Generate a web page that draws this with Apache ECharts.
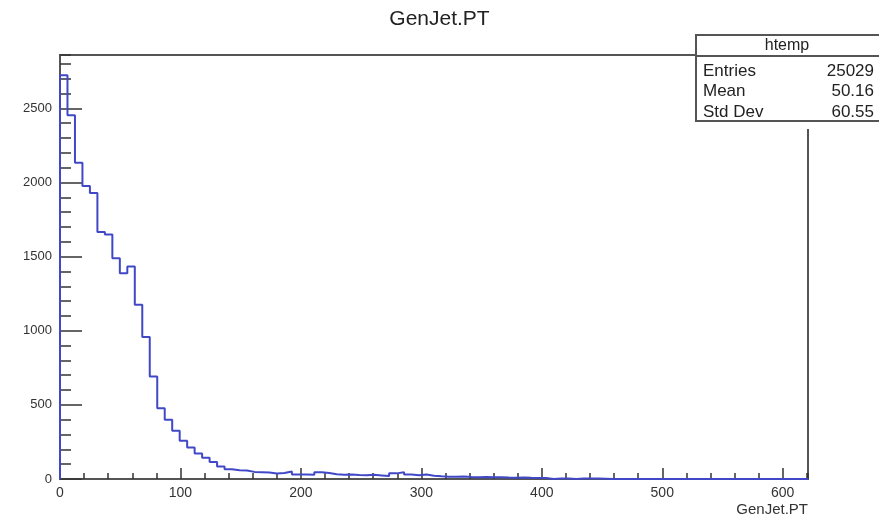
<!DOCTYPE html>
<html>
<head>
<meta charset="utf-8">
<script src="https://cdn.jsdelivr.net/npm/echarts@6/dist/echarts.min.js"></script>
<style>
html,body{margin:0;padding:0;background:#fff;}
#chart{width:879px;height:522px;}
</style>
</head>
<body>
<div id="chart"></div>
<script>
// ---- data ----
const titleText = 'GenJet.PT';
const xAxisTitle = 'GenJet.PT';
const xMin = 0;
const xMax = 621;
const nBins = 100;
const yMax = 2860;
const binCounts = [
  2724, 2453, 2133, 1976, 1929, 1666, 1650, 1489, 1388, 1433,
  1175, 957, 691, 478, 400, 325, 258, 212, 172, 143,
  115, 85, 65, 59, 57, 48, 46, 44, 37, 40,
  50, 30, 30, 29, 45, 40, 32, 28, 30, 27,
  25, 28, 24, 20, 38, 45, 30, 25, 30, 22,
  18, 16, 15, 17, 14, 12, 13, 11, 12, 10,
  9, 10, 8, 7, 6, 0, 3, 4, 0, 3,
  4, 3, 2, 0, 0, 0, 0, 0, 0, 0,
  0, 0, 0, 0, 0, 0, 0, 0, 0, 0,
  0, 0, 0, 0, 0, 0, 0, 0, 0, 0
];
const xTickLabels = [0, 100, 200, 300, 400, 500, 600];
const yTickLabels = [0, 500, 1000, 1500, 2000, 2500];
const statsName = 'htemp';
const statsLabels = ['Entries', 'Mean', 'Std Dev'];
const statsValues = ['25029', '50.16', '60.55'];

// ---- build histogram outline (bin edges via the axis scale) ----
const binWidth = (xMax - xMin) / nBins;
const histPoints = [[xMin, 0]];
for (let i = 0; i < binCounts.length; i++) {
  histPoints.push([xMin + i * binWidth, binCounts[i]]);
}
histPoints.push([xMax, binCounts[binCounts.length - 1]]);

const FONT = 'Liberation Sans, Arial, Helvetica, sans-serif';
const frameColor = '#555';
const tickColor = '#333';

const chart = echarts.init(document.getElementById('chart'), null, {renderer: 'canvas'});

const grid = {left: 60, right: 71, top: 55, bottom: 43, show: true,
  borderColor: frameColor, borderWidth: 2, backgroundColor: 'transparent', containLabel: false};

const option = {
  animation: false,
  backgroundColor: '#fff',
  grid: grid,
  xAxis: [
    {
      type: 'value', min: xMin, max: xMax, interval: 20, position: 'bottom',
      axisLine: {show: true, onZero: false, lineStyle: {color: frameColor, width: 2}},
      axisTick: {show: true, inside: true, length: 6, lineStyle: {color: tickColor, width: 1.5}},
      axisLabel: {show: false},
      splitLine: {show: false}
    },
    {
      type: 'value', min: xMin, max: xMax, interval: 100, position: 'bottom',
      axisLine: {show: false, onZero: false},
      axisTick: {show: true, inside: true, length: 11, lineStyle: {color: tickColor, width: 1.5}},
      axisLabel: {
        show: true, margin: 7, fontSize: 14, color: '#333', fontFamily: FONT,
        formatter: function (v) { return xTickLabels.indexOf(v) >= 0 ? String(v) : ''; },
        showMaxLabel: false
      },
      splitLine: {show: false}
    }
  ],
  yAxis: [
    {
      type: 'value', min: 0, max: yMax, interval: 100, position: 'left',
      axisLine: {show: true, onZero: false, lineStyle: {color: frameColor, width: 2}},
      axisTick: {show: true, inside: true, length: 11, lineStyle: {color: tickColor, width: 1.5}},
      axisLabel: {show: false},
      splitLine: {show: false}
    },
    {
      type: 'value', min: 0, max: yMax, interval: 500, position: 'left',
      axisLine: {show: false, onZero: false},
      axisTick: {show: true, inside: true, length: 22, lineStyle: {color: tickColor, width: 1.5}},
      axisLabel: {
        show: true, margin: 8, fontSize: 13, color: '#333', fontFamily: FONT,
        formatter: function (v) { return yTickLabels.indexOf(v) >= 0 ? String(v) : ''; },
        showMaxLabel: false
      },
      splitLine: {show: false}
    }
  ],
  series: [{
    type: 'line',
    xAxisIndex: 0, yAxisIndex: 0,
    step: 'end',
    showSymbol: false,
    symbol: 'none',
    clip: true,
    lineStyle: {color: '#4148c8', width: 2},
    data: histPoints
  }],
  graphic: [
    {type: 'text', left: 'center', top: 9, z: 10,
      style: {text: titleText, font: '21px ' + FONT, fill: '#222'}},
    {type: 'text', z: 10,
      style: {text: xAxisTitle, x: 808, y: 510, textAlign: 'right', textVerticalAlign: 'middle', verticalAlign: 'middle',
        font: '15px ' + FONT, fill: '#333'}},
    // stats box
    {type: 'rect', z: 20, shape: {x: 696, y: 35, width: 190, height: 86},
      style: {fill: '#fff', stroke: 'none'}},
    {type: 'text', z: 21,
      style: {text: statsName, x: 787, y: 46, textAlign: 'center', textVerticalAlign: 'middle', verticalAlign: 'middle',
        font: '16px ' + FONT, fill: '#222'}},
    {type: 'text', z: 21,
      style: {text: statsLabels[0], x: 703, y: 71, textVerticalAlign: 'middle', verticalAlign: 'middle', font: '17px ' + FONT, fill: '#222'}},
    {type: 'text', z: 21,
      style: {text: statsValues[0], x: 874, y: 71, textAlign: 'right', textVerticalAlign: 'middle', verticalAlign: 'middle', font: '17px ' + FONT, fill: '#222'}},
    {type: 'text', z: 21,
      style: {text: statsLabels[1], x: 703, y: 91, textVerticalAlign: 'middle', verticalAlign: 'middle', font: '17px ' + FONT, fill: '#222'}},
    {type: 'text', z: 21,
      style: {text: statsValues[1], x: 874, y: 91, textAlign: 'right', textVerticalAlign: 'middle', verticalAlign: 'middle', font: '17px ' + FONT, fill: '#222'}},
    {type: 'text', z: 21,
      style: {text: statsLabels[2], x: 703, y: 112, textVerticalAlign: 'middle', verticalAlign: 'middle', font: '17px ' + FONT, fill: '#222'}},
    {type: 'text', z: 21,
      style: {text: statsValues[2], x: 874, y: 112, textAlign: 'right', textVerticalAlign: 'middle', verticalAlign: 'middle', font: '17px ' + FONT, fill: '#222'}},
    // white mask to clip bottom of last row
    {type: 'rect', z: 22, shape: {x: 696, y: 121, width: 190, height: 8},
      style: {fill: '#fff', stroke: 'none'}},
    {type: 'line', z: 23, shape: {x1: 696, y1: 56, x2: 879, y2: 56},
      style: {stroke: frameColor, lineWidth: 2}},
    {type: 'rect', z: 23, shape: {x: 696, y: 35, width: 190, height: 86},
      style: {fill: 'none', stroke: frameColor, lineWidth: 2}}
  ]
};

chart.setOption(option);
</script>
</body>
</html>
